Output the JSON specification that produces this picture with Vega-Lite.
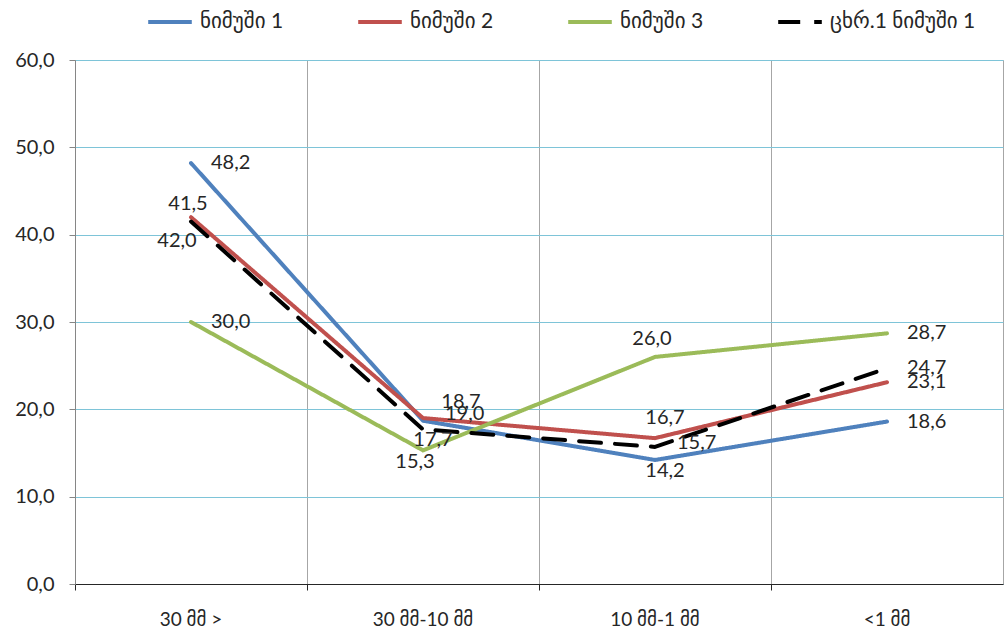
{
  "$schema": "https://vega.github.io/schema/vega-lite/v6.json",
  "autosize": {"type": "none"},
  "width": 928,
  "height": 524,
  "padding": {"left": 75, "top": 60, "right": 5, "bottom": 53},
  "background": "white",
  "config": {
    "locale": {"number": {"decimal": ",", "thousands": " ", "grouping": [3], "currency": ["", ""]}},
    "view": {"stroke": "#A6A6A6", "strokeWidth": 1},
    "font": "Lato, DejaVu Sans",
    "text": {"font": "Lato, DejaVu Sans", "fontSize": 20, "fill": "#262626", "baseline": "middle"}
  },
  "data": {
    "values": [
      {"series": "ნიმუში 1", "cat": "30 მმ >", "value": 48.2},
      {"series": "ნიმუში 1", "cat": "30 მმ-10 მმ", "value": 18.7},
      {"series": "ნიმუში 1", "cat": "10 მმ-1 მმ", "value": 14.2},
      {"series": "ნიმუში 1", "cat": "<1 მმ", "value": 18.6},
      {"series": "ნიმუში 2", "cat": "30 მმ >", "value": 42.0},
      {"series": "ნიმუში 2", "cat": "30 მმ-10 მმ", "value": 19.0},
      {"series": "ნიმუში 2", "cat": "10 მმ-1 მმ", "value": 16.7},
      {"series": "ნიმუში 2", "cat": "<1 მმ", "value": 23.1},
      {"series": "ნიმუში 3", "cat": "30 მმ >", "value": 30.0},
      {"series": "ნიმუში 3", "cat": "30 მმ-10 მმ", "value": 15.3},
      {"series": "ნიმუში 3", "cat": "10 მმ-1 მმ", "value": 26.0},
      {"series": "ნიმუში 3", "cat": "<1 მმ", "value": 28.7},
      {"series": "ცხრ.1 ნიმუში 1", "cat": "30 მმ >", "value": 41.5},
      {"series": "ცხრ.1 ნიმუში 1", "cat": "30 მმ-10 მმ", "value": 17.7},
      {"series": "ცხრ.1 ნიმუში 1", "cat": "10 მმ-1 მმ", "value": 15.7},
      {"series": "ცხრ.1 ნიმუში 1", "cat": "<1 მმ", "value": 24.7}
    ]
  },
  "encoding": {
    "x": {
      "field": "cat", "type": "nominal", "sort": null, "bandPosition": 0.5,
      "scale": {"type": "band", "paddingInner": 0, "paddingOuter": 0},
      "axis": {
        "title": null, "labelAngle": 0, "bandPosition": 0,
        "grid": true, "gridColor": "#A6A6A6", "gridWidth": 1,
        "domainColor": "#262626", "domainWidth": 1.2,
        "tickColor": "#262626", "tickSize": 6,
        "labelFont": "Lato, DejaVu Sans", "labelFontSize": 19, "labelColor": "#262626",
        "labelPadding": 20
      }
    },
    "y": {
      "field": "value", "type": "quantitative",
      "scale": {"domain": [0, 60], "nice": false},
      "axis": {
        "title": null, "values": [0, 10, 20, 30, 40, 50, 60], "format": ".1f",
        "grid": true, "gridColor": "#7EC4D8", "gridWidth": 1.2,
        "domainColor": "#868686", "tickColor": "#868686", "tickSize": 6,
        "labelFont": "Lato, DejaVu Sans", "labelFontSize": 20, "labelColor": "#262626",
        "labelPadding": 15
      }
    }
  },
  "layer": [
    {
      "mark": {"type": "line", "strokeWidth": 4, "strokeCap": "round", "strokeJoin": "round"},
      "encoding": {
        "color": {
          "field": "series", "type": "nominal",
          "scale": {
            "domain": ["ნიმუში 1", "ნიმუში 2", "ნიმუში 3", "ცხრ.1 ნიმუში 1"],
            "range": ["#4F81BD", "#C0504D", "#9BBB59", "#000000"]
          },
          "legend": {
            "title": null, "orient": "none", "direction": "horizontal",
            "legendX": 71, "legendY": -62,
            "symbolType": "stroke", "symbolSize": 1900, "symbolStrokeWidth": 4,
            "labelFont": "Lato, DejaVu Sans", "labelFontSize": 21, "labelColor": "#262626",
            "columnPadding": 66, "labelOffset": 6
          }
        },
        "strokeDash": {
          "field": "series", "type": "nominal",
          "scale": {
            "domain": ["ნიმუში 1", "ნიმუში 2", "ნიმუში 3", "ცხრ.1 ნიმუში 1"],
            "range": [[1, 0], [1, 0], [1, 0], [22, 14]]
          },
          "legend": null
        },
        "order": {"field": "series"}
      }
    },
    {
      "transform": [{"filter": "(datum.series === 'ნიმუში 1' && datum.cat === '30 მმ >') || (datum.series === 'ნიმუში 3' && datum.cat === '30 მმ >') || datum.cat === '<1 მმ'"}],
      "mark": {"type": "text", "align": "left", "dx": 20, "dy": 0},
      "encoding": {"text": {"field": "value", "type": "quantitative", "format": ".1f"}}
    },
    {
      "transform": [{"filter": "(datum.series === 'ნიმუში 2' && datum.cat === '30 მმ-10 მმ') || (datum.series === 'ცხრ.1 ნიმუში 1' && datum.cat === '10 მმ-1 მმ')"}],
      "mark": {"type": "text", "align": "left", "dx": 22, "dy": -4},
      "encoding": {"text": {"field": "value", "type": "quantitative", "format": ".1f"}}
    },
    {
      "transform": [{"filter": "(datum.series === 'ცხრ.1 ნიმუში 1' && datum.cat === '30 მმ >') || (datum.series === 'ნიმუში 3' && datum.cat === '10 მმ-1 მმ')"}],
      "mark": {"type": "text", "align": "center", "dx": -3, "dy": -18},
      "encoding": {"text": {"field": "value", "type": "quantitative", "format": ".1f"}}
    },
    {
      "transform": [{"filter": "datum.series === 'ნიმუში 2' && datum.cat === '10 მმ-1 მმ'"}],
      "mark": {"type": "text", "align": "center", "dx": 10, "dy": -20},
      "encoding": {"text": {"field": "value", "type": "quantitative", "format": ".1f"}}
    },
    {
      "transform": [{"filter": "datum.series === 'ნიმუში 1' && datum.cat === '30 მმ-10 მმ'"}],
      "mark": {"type": "text", "align": "center", "dx": 38, "dy": -19},
      "encoding": {"text": {"field": "value", "type": "quantitative", "format": ".1f"}}
    },
    {
      "transform": [{"filter": "(datum.series === 'ცხრ.1 ნიმუში 1' && datum.cat === '30 მმ-10 მმ') || (datum.series === 'ნიმუში 1' && datum.cat === '10 მმ-1 მმ')"}],
      "mark": {"type": "text", "align": "center", "dx": 10, "dy": 11},
      "encoding": {"text": {"field": "value", "type": "quantitative", "format": ".1f"}}
    },
    {
      "transform": [{"filter": "datum.series === 'ნიმუში 2' && datum.cat === '30 მმ >'"}],
      "mark": {"type": "text", "align": "center", "dx": -14, "dy": 24},
      "encoding": {"text": {"field": "value", "type": "quantitative", "format": ".1f"}}
    },
    {
      "transform": [{"filter": "datum.series === 'ნიმუში 3' && datum.cat === '30 მმ-10 მმ'"}],
      "mark": {"type": "text", "align": "center", "dx": -8, "dy": 12},
      "encoding": {"text": {"field": "value", "type": "quantitative", "format": ".1f"}}
    }
  ]
}
